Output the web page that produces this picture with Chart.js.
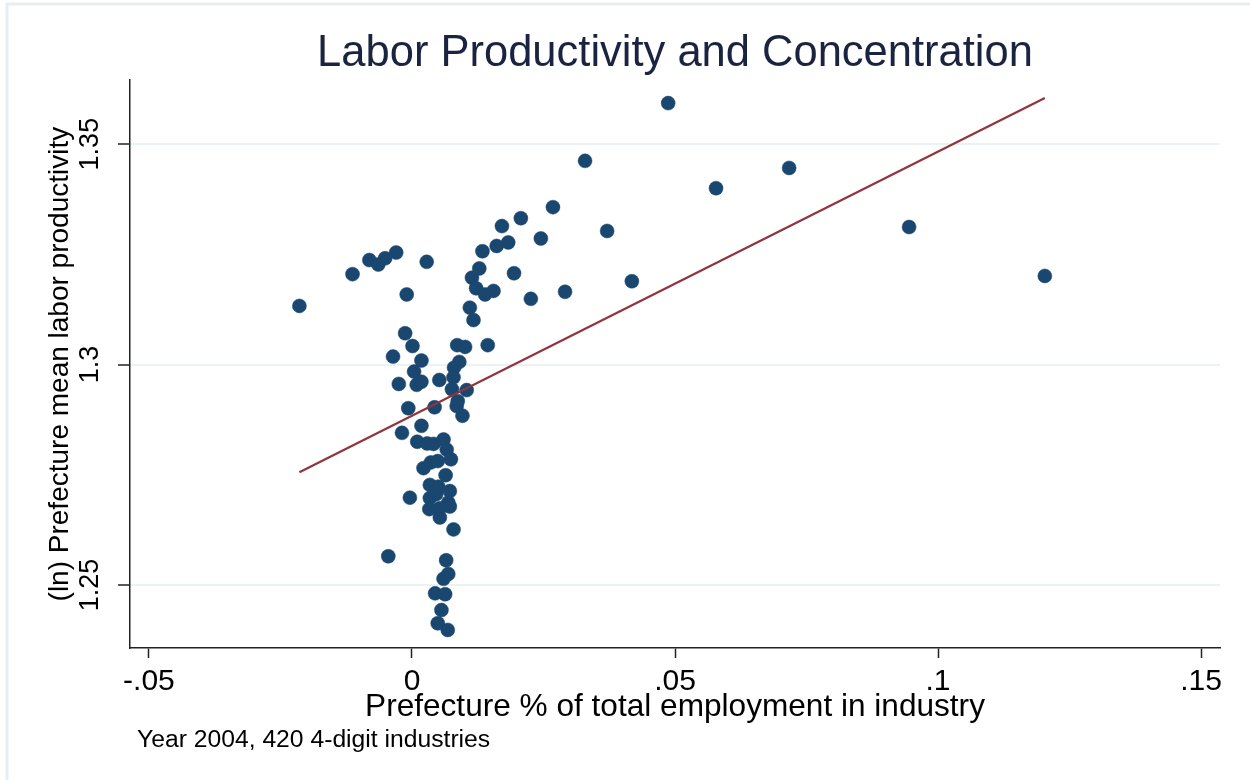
<!DOCTYPE html>
<html>
<head>
<meta charset="utf-8">
<title>Labor Productivity and Concentration</title>
<script src="https://cdn.jsdelivr.net/npm/chart.js@4/dist/chart.umd.min.js"></script>
<style>
  html, body { margin: 0; padding: 0; background: #ffffff; }
  #wrap { width: 1250px; height: 780px; position: relative; }
</style>
</head>
<body>
<div id="wrap"><canvas id="chart" width="1250" height="780"></canvas></div>
<script>
// Prefecture share of industry employment (x) and mean log labor productivity (y)
const shareValues = [
  0.0487, 0.0329, 0.0717, 0.0578, 0.0268, 0.0207, 0.0171, 0.0371, 0.0945, 0.0245,
  0.0183, 0.0161, 0.0134, 0.0418, 0.1203, 0.0194, 0.0291, 0.0226, -0.0214, -0.0113,
  -0.0081, -0.0064, -0.0051, -0.0030, 0.0028, -0.0010, 0.0128, 0.0114, 0.0122, 0.0139,
  0.0155, 0.0110, 0.0117, -0.0013, 0.0001, -0.0036, 0.0018, 0.0086, 0.0101, 0.0144,
  0.0090, 0.0080, 0.0004, -0.0025, 0.0009, 0.0018, 0.0052, 0.0079, 0.0076, 0.0104,
  0.0087, -0.0007, 0.0043, 0.0085, 0.0096, 0.0018, -0.0019, 0.0010, 0.0029, 0.0041,
  0.0060, 0.0066, 0.0074, 0.0022, 0.0036, 0.0049, 0.0064, 0.0034, 0.0050, 0.0072,
  -0.0004, 0.0034, 0.0046, 0.0069, 0.0033, 0.0053, 0.0072, 0.0053, 0.0079, -0.0045,
  0.0065, 0.0069, 0.0060, 0.0044, 0.0063, 0.0056, 0.0049, 0.0068
];
const productivityValues = [
  1.3593, 1.3462, 1.3446, 1.3400, 1.3357, 1.3332, 1.3314, 1.3303, 1.3312, 1.3286,
  1.3277, 1.3269, 1.3257, 1.3189, 1.3201, 1.3207, 1.3165, 1.3149, 1.3133, 1.3205,
  1.3237, 1.3227, 1.3241, 1.3254, 1.3233, 1.3159, 1.3218, 1.3197, 1.3173, 1.3159,
  1.3167, 1.3129, 1.3101, 1.3071, 1.3042, 1.3018, 1.3009, 1.3044, 1.3040, 1.3044,
  1.3006, 1.2993, 1.2984, 1.2956, 1.2954, 1.2961, 1.2965, 1.2971, 1.2944, 1.2942,
  1.2917, 1.2901, 1.2903, 1.2906, 1.2884, 1.2861, 1.2845, 1.2825, 1.2821, 1.2820,
  1.2830, 1.2807, 1.2785, 1.2765, 1.2778, 1.2781, 1.2749, 1.2727, 1.2723, 1.2713,
  1.2698, 1.2697, 1.2706, 1.2687, 1.2672, 1.2674, 1.2678, 1.2653, 1.2626, 1.2565,
  1.2556, 1.2525, 1.2514, 1.2481, 1.2479, 1.2443, 1.2413, 1.2398
];

// Linear fit: productivity = intercept + slope * share
const fitIntercept = 1.2884;
const fitSlope = 0.599;

// Axis ticks and labels
const xTickValues = [-0.05, 0, 0.05, 0.1, 0.15];
const xTickLabels = ['-.05', '0', '.05', '.1', '.15'];
const yTickValues = [1.25, 1.3, 1.35];
const yTickLabels = ['1.25', '1.3', '1.35'];
const xRange = [-0.0536, 0.1536];
const yRange = [1.2357, 1.3645];

const titleText = 'Labor Productivity and Concentration';
const xTitleText = 'Prefecture % of total employment in industry';
const yTitleText = '(ln) Prefecture mean labor productivity';
const noteText = 'Year 2004, 420 4-digit industries';

const FONT = "'Liberation Sans', Arial, Helvetica, sans-serif";
Chart.defaults.font.family = FONT;
Chart.defaults.color = '#000000';

const scatterPoints = shareValues.map((x, i) => ({ x: x, y: productivityValues[i] }));
const fitMinX = Math.min(...shareValues);
const fitMaxX = Math.max(...shareValues);
const fitPoints = [fitMinX, fitMaxX].map(x => ({ x: x, y: fitIntercept + fitSlope * x }));

// White background plus a faint outer frame around the graph region
const backdrop = {
  id: 'backdrop',
  beforeDraw(chart) {
    const ctx = chart.ctx;
    ctx.save();
    ctx.fillStyle = '#ffffff';
    ctx.fillRect(0, 0, chart.width, chart.height);
    ctx.strokeStyle = '#e6eef1';
    ctx.lineWidth = 3;
    ctx.beginPath();
    ctx.moveTo(7, chart.height);
    ctx.lineTo(7, 4);
    ctx.lineTo(chart.width, 4);
    ctx.stroke();
    ctx.restore();
  }
};

// Note line under the x axis title
const footNote = {
  id: 'footNote',
  afterDraw(chart) {
    const ctx = chart.ctx;
    ctx.save();
    ctx.font = '24.7px ' + FONT;
    ctx.fillStyle = '#000000';
    ctx.textAlign = 'left';
    ctx.textBaseline = 'middle';
    ctx.fillText(noteText, 137, 740);
    ctx.restore();
  }
};

new Chart(document.getElementById('chart'), {
  type: 'scatter',
  data: {
    datasets: [
      {
        label: 'Fitted values',
        data: fitPoints,
        showLine: true,
        borderColor: '#90353b',
        borderWidth: 2.2,
        pointRadius: 0,
        fill: false,
        order: 0
      },
      {
        label: 'Prefecture mean labor productivity',
        data: scatterPoints,
        pointRadius: 7,
        pointHoverRadius: 7,
        pointBackgroundColor: '#1a476f',
        pointBorderColor: '#1a476f',
        pointBorderWidth: 0.5,
        order: 1
      }
    ]
  },
  options: {
    responsive: false,
    animation: false,
    devicePixelRatio: 1,
    layout: { padding: { top: 15, right: 30, left: 0, bottom: 0 } },
    plugins: {
      legend: { display: false },
      tooltip: { enabled: false },
      title: {
        display: true,
        text: titleText,
        fullSize: false,
        color: '#1a2340',
        font: { size: 43.5, weight: 'normal', family: FONT },
        padding: { top: 13, bottom: 0 }
      }
    },
    scales: {
      x: {
        type: 'linear',
        position: 'bottom',
        min: xRange[0],
        max: xRange[1],
        afterFit(scale) { scale.height = 132; },
        afterBuildTicks(scale) { scale.ticks = xTickValues.map(v => ({ value: v })); },
        grid: {
          drawOnChartArea: false,
          drawTicks: true,
          tickLength: 10,
          tickColor: '#222222',
          tickWidth: 1.5
        },
        border: { display: true, color: '#222222', width: 1.5 },
        ticks: {
          autoSkip: false,
          maxRotation: 0,
          minRotation: 0,
          padding: 6,
          color: '#000000',
          font: { size: 30, family: FONT },
          callback: (value, index) => xTickLabels[index]
        },
        title: {
          display: true,
          text: xTitleText,
          color: '#000000',
          font: { size: 31.6, family: FONT },
          padding: { top: 0, bottom: 54 }
        }
      },
      y: {
        type: 'linear',
        position: 'left',
        min: yRange[0],
        max: yRange[1],
        afterFit(scale) { scale.width = 130; },
        afterBuildTicks(scale) { scale.ticks = yTickValues.map(v => ({ value: v })); },
        grid: {
          drawOnChartArea: true,
          drawTicks: true,
          tickLength: 12,
          color: '#eaf2f3',
          lineWidth: 2,
          tickColor: '#222222',
          tickWidth: 1.5
        },
        border: { display: true, color: '#222222', width: 1.5 },
        ticks: {
          autoSkip: false,
          minRotation: 90,
          maxRotation: 90,
          crossAlign: 'center',
          padding: 1,
          color: '#000000',
          font: { size: 27, family: FONT },
          callback: (value, index) => yTickLabels[index]
        },
        title: {
          display: true,
          text: yTitleText,
          color: '#000000',
          font: { size: 28, family: FONT },
          padding: { top: 43, bottom: 0 }
        }
      }
    }
  },
  plugins: [backdrop, footNote]
});
</script>
</body>
</html>
